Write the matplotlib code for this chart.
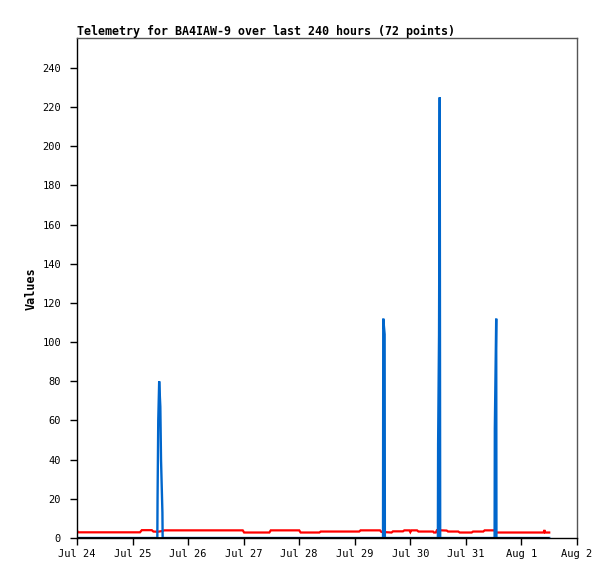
import matplotlib
matplotlib.use('Agg')
import matplotlib.pyplot as plt

# Hours since Jul 24 00:00
day_labels = ['Jul 24', 'Jul 25', 'Jul 26', 'Jul 27', 'Jul 28',
              'Jul 29', 'Jul 30', 'Jul 31', 'Aug 1', 'Aug 2']
y_ticks = [0, 20, 40, 60, 80, 100, 120, 140, 160, 180, 200, 220, 240]

# Red series (small values, near 3-4)
red_t = [0.0, 0.3, 27.2, 28.0, 32.3, 33.0, 35.0, 37.0, 37.7, 71.6, 72.2,
         83.1, 83.7, 96.0, 96.6, 104.7, 105.3, 121.9, 122.5, 130.9, 131.5,
         135.9, 136.5, 140.8, 141.4, 143.6, 144.0, 144.4, 146.9, 147.5,
         153.8, 154.2, 155.0, 155.5, 159.7, 160.3, 164.7, 165.3, 170.5,
         171.1, 175.5, 176.1, 180.3, 180.9, 201.6, 201.9, 202.2, 204.0]
red_v = [3.9, 2.9, 2.9, 4.0, 4.0, 3.3, 3.2, 3.6, 3.9, 3.9, 2.8,
         2.8, 3.9, 3.9, 2.8, 2.8, 3.3, 3.3, 3.9, 3.9, 3.1,
         2.8, 3.4, 3.4, 3.9, 3.9, 3.0, 3.9, 3.9, 3.3,
         3.3, 2.8, 2.8, 4.0, 3.8, 3.3, 3.3, 2.8, 2.8,
         3.3, 3.3, 3.9, 3.9, 2.8, 2.8, 4.1, 2.8, 2.8]

# Blue series (spikes)
blue_t = [0.0, 34.7, 34.8, 35.1, 35.5, 36.0, 36.3, 36.9, 37.0,
          132.2, 132.3, 132.9, 133.0,
          155.9, 156.0, 156.4, 156.7, 156.9,
          180.4, 180.5, 181.1, 181.2, 204.0]
blue_v = [0, 0, 20, 60, 80, 67, 40, 13, 0,
          0, 112, 104, 0,
          0, 48, 104, 225, 0,
          0, 56, 112, 0, 0]

# Black series (zero)
black_t = [0.0, 204.0]
black_v = [0, 0]

fig = plt.figure(figsize=(6.15, 5.79), dpi=100)
ax = fig.add_axes([77 / 615, 41 / 579, 500 / 615, 500 / 579])

mono = 'DejaVu Sans Mono'
ax.plot(red_t, red_v, color='#ff0000', linewidth=1.6, solid_joinstyle='miter')
ax.plot(blue_t, blue_v, color='#0066cc', linewidth=1.7, solid_joinstyle='miter')
ax.plot(black_t, black_v, color='black', linewidth=2.0, solid_capstyle='butt')

ax.set_xlim(0, 216)
ax.set_ylim(0, 255.3)
ax.set_xticks([24 * i for i in range(len(day_labels))])
ax.set_xticklabels(day_labels, fontfamily=mono, fontsize=7.5)
ax.set_yticks(y_ticks)
ax.set_yticklabels([str(v) for v in y_ticks], fontfamily=mono, fontsize=7.5)
ax.tick_params(axis='both', direction='out', length=5, width=1, color='black')
ax.tick_params(axis='x', pad=3)
ax.tick_params(axis='y', pad=6.5)

for side in ['top', 'right']:
    ax.spines[side].set_color('#555555')
    ax.spines[side].set_linewidth(1)
for side in ['left', 'bottom']:
    ax.spines[side].set_color('black')
    ax.spines[side].set_linewidth(1)

ax.set_title('Telemetry for BA4IAW-9 over last 240 hours (72 points)',
             loc='left', fontfamily=mono, fontweight='bold', fontsize=8.4, pad=2.5)
fig.text(31 / 615, 1 - 289 / 579, 'Values', rotation=90, ha='center', va='center',
         fontfamily=mono, fontweight='bold', fontsize=8.5)

fig.savefig('out.png', dpi=100)
